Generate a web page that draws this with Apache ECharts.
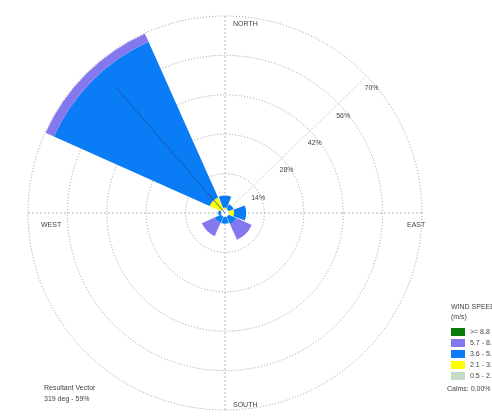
<!DOCTYPE html>
<html>
<head>
<meta charset="utf-8">
<script src="https://cdn.jsdelivr.net/npm/echarts@6/dist/echarts.min.js"></script>
<style>
  html, body { margin: 0; padding: 0; background: #fff; }
  #chart { width: 492px; height: 417px; }
</style>
</head>
<body>
<div id="chart"></div>
<script>
// wind directions, 45 deg sectors
const directions = ['N', 'NE', 'E', 'SE', 'S', 'SW', 'W', 'NW']
const speedClasses = ['0.5 - 2.1', '2.1 - 3.6', '3.6 - 5.7', '5.7 - 8.8', '>= 8.8']
// frequency (%) per direction, one array per speed class
const speed05to21 = [0, 0, 0, 0, 0, 0, 0, 0.3]
const speed21to36 = [0.5, 0, 1.8, 0, 0, 0, 0, 4.3]
const speed36to57 = [4.3, 2, 4.3, 3, 2.4, 2.6, 1, 60.6]
const speed57to88 = [0, 0, 0, 6, 0, 5, 0, 3.2]
const speed88up = [0, 0, 0, 0, 0, 0, 0, 0]
const ringStep = 14
const ringMax = 70
// resultant vector: [deg, %]
const resultantVector = [319, 59]
const calms = 0.0

const classColors = ['#c4dcc4', '#ffff00', '#0a7cf6', '#8478ee', '#0a7a0a']
const classData = [speed05to21, speed21to36, speed36to57, speed57to88, speed88up]

const center = [225, 213]
const outerR = 197
const txt = { fontSize: 7, color: '#444', fontWeight: 'normal', fontFamily: 'Liberation Sans' }

const chart = echarts.init(document.getElementById('chart'), null, { renderer: 'canvas' })

const label = (text, left, top) => ({ text, left, top, textStyle: txt })

const option = {
  animation: false,
  backgroundColor: '#fff',
  title: [
    label('NORTH', 228, 16),
    label('SOUTH', 228, 397),
    label('WEST', 36, 217),
    label('EAST', 402, 217),
    label('Resultant Vector', 39, 380),
    label(resultantVector[0] + ' deg - ' + resultantVector[1] + '%', 39, 391),
    label('WIND SPEED', 446, 299),
    label('(m/s)', 446, 309),
    label('Calms: ' + calms.toFixed(2) + '%', 442, 381)
  ],
  legend: {
    orient: 'vertical',
    left: 446,
    top: 323,
    itemWidth: 14,
    itemHeight: 8,
    itemGap: 3,
    icon: 'rect',
    data: speedClasses.slice().reverse(),
    textStyle: { fontSize: 7, color: '#444', fontFamily: 'Liberation Sans' },
    selectedMode: false
  },
  polar: [
    { center, radius: [4, outerR] },
    { center, radius: [0, outerR] },
    { center, radius: [0, outerR] }
  ],
  angleAxis: [
    {
      polarIndex: 0,
      type: 'category',
      data: directions,
      startAngle: 90 + 22.5,
      clockwise: true,
      axisLine: { show: false },
      axisTick: { show: false },
      axisLabel: { show: false },
      splitLine: { show: false }
    },
    {
      polarIndex: 1,
      type: 'value',
      min: 0,
      max: 360,
      interval: 90,
      startAngle: 90,
      clockwise: true,
      axisLine: { show: false },
      axisTick: { show: false },
      axisLabel: { show: false },
      splitLine: { show: true, lineStyle: { color: '#b4b8c8', type: [2, 2], width: 1 } }
    },
    {
      polarIndex: 2,
      type: 'value',
      min: 0,
      max: 360,
      startAngle: 44,
      show: false
    }
  ],
  radiusAxis: [
    {
      polarIndex: 0,
      min: 0,
      max: ringMax - 1.4,
      show: false
    },
    {
      polarIndex: 1,
      min: 0,
      max: ringMax,
      interval: ringStep,
      axisLine: { show: false },
      axisTick: { show: false },
      axisLabel: { show: false },
      splitLine: { show: true, lineStyle: { color: '#9a9a9a', type: [1, 2], width: 1 } }
    },
    {
      polarIndex: 2,
      min: 0,
      max: ringMax,
      interval: ringStep,
      axisLine: { show: true, lineStyle: { color: '#dadada', type: [2, 2], width: 1 } },
      axisTick: { show: false },
      splitLine: { show: false },
      axisLabel: {
        margin: -17,
        fontSize: 7,
        color: '#444',
        fontFamily: 'Liberation Sans',
        formatter: (v) => (v === 0 ? '' : v + '%')
      }
    }
  ],
  series: speedClasses.map((name, i) => ({
    name,
    type: 'bar',
    coordinateSystem: 'polar',
    polarIndex: 0,
    stack: 'wind',
    barCategoryGap: '7%',
    data: classData[i],
    itemStyle: { color: classColors[i] },
    z: 3
  })).concat([
    {
      name: 'Resultant',
      type: 'line',
      coordinateSystem: 'polar',
      polarIndex: 1,
      symbol: 'none',
      data: [[0, resultantVector[0]], [resultantVector[1], resultantVector[0]]],
      lineStyle: { color: '#1d4fa0', width: 1, opacity: 0.8 },
      z: 4
    }
  ])
}

chart.setOption(option)
</script>
</body>
</html>
